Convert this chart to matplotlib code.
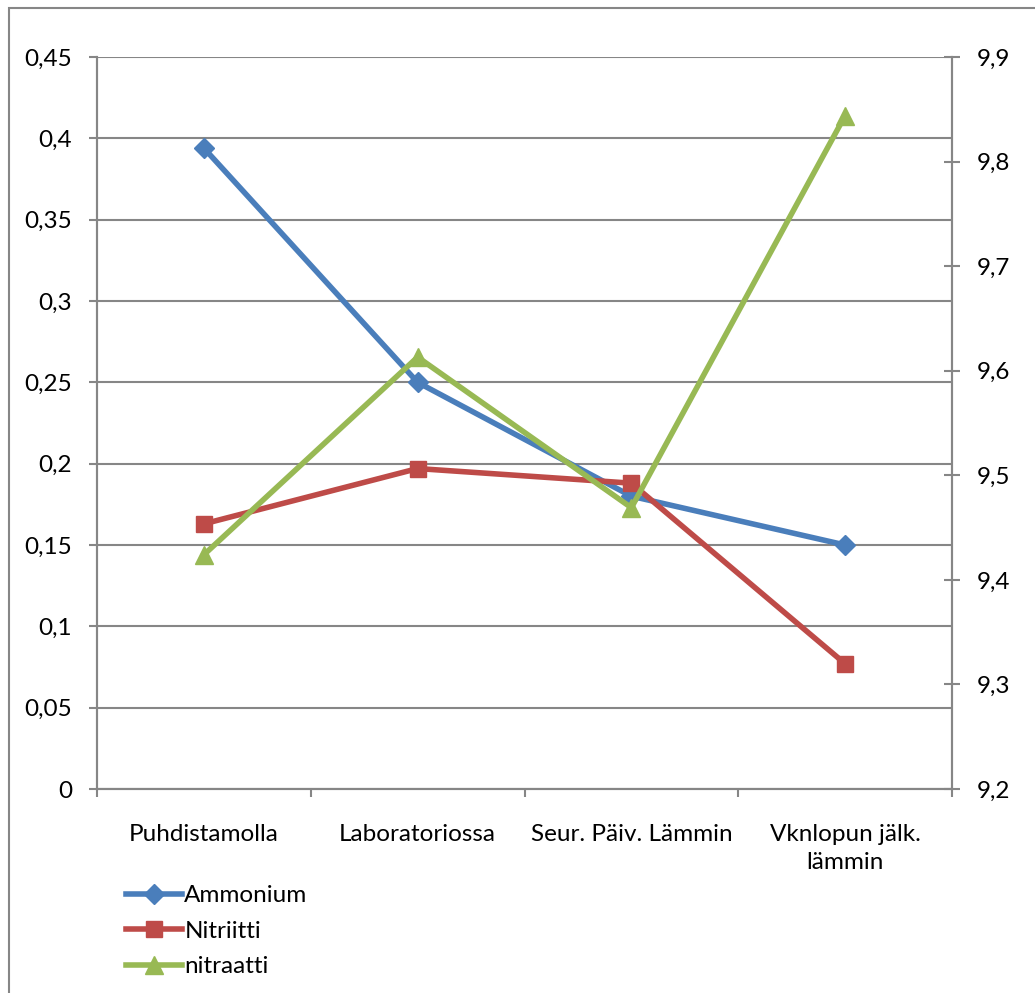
import matplotlib.pyplot as plt
from matplotlib.patches import Rectangle
import numpy as np

plt.rcParams["font.family"] = ["Lato", "DejaVu Sans"]

categories = ["Puhdistamolla", "Laboratoriossa", "Seur. Päiv. Lämmin", "Vknlopun jälk.\nlämmin"]
ammonium = [0.394, 0.250, 0.180, 0.150]
nitriitti = [0.163, 0.197, 0.188, 0.077]
nitraatti = [9.424, 9.613, 9.469, 9.844]

left_ticks = [0, 0.05, 0.1, 0.15, 0.2, 0.25, 0.3, 0.35, 0.4, 0.45]
left_labels = ["0", "0,05", "0,1", "0,15", "0,2", "0,25", "0,3", "0,35", "0,4", "0,45"]
right_ticks = [9.2, 9.3, 9.4, 9.5, 9.6, 9.7, 9.8, 9.9]
right_labels = ["9,2", "9,3", "9,4", "9,5", "9,6", "9,7", "9,8", "9,9"]

W, H = 1035, 993
fig = plt.figure(figsize=(W / 100, H / 100), dpi=100)
ax = fig.add_axes([97 / W, 1 - 789 / H, (952 - 97) / W, (789 - 57) / H])
ax2 = ax.twinx()

grid_col = "#868686"
fs = 17.5
x = np.arange(len(categories))

l1, = ax.plot(x, ammonium, color="#4A7EBB", lw=4, marker="D", ms=10.5,
              label="Ammonium", zorder=3)
l2, = ax.plot(x, nitriitti, color="#BE4B48", lw=4, marker="s", ms=12,
              label="Nitriitti", zorder=4)
l3, = ax2.plot(x, nitraatti, color="#98B954", lw=4, marker="^", ms=13,
               label="nitraatti", zorder=3)

ax.set_xlim(-0.5, len(categories) - 0.5)
ax.set_ylim(0, 0.45)
ax2.set_ylim(9.2, 9.9)

ax.set_yticks(left_ticks)
ax.set_yticklabels(left_labels, fontsize=fs)
ax2.set_yticks(right_ticks)
ax2.set_yticklabels(right_labels, fontsize=fs)

ax.set_xticks(x)
ax.set_xticklabels(categories, fontsize=fs, linespacing=1.4)
ax.set_xticks(np.arange(-0.5, len(categories)), minor=True)
ax.tick_params(axis="x", which="major", length=0, pad=25)
ax.tick_params(axis="x", which="minor", length=6, width=1.5, color=grid_col, direction="out")
ax.tick_params(axis="y", length=6, width=1.5, color=grid_col, direction="out", pad=12)
ax2.tick_params(axis="y", length=12, width=1.5, color=grid_col, direction="inout", pad=12)

ax.grid(axis="y", color=grid_col, lw=1.5)
ax.set_axisbelow(True)
for a in (ax, ax2):
    a.spines["top"].set_visible(False)
    for s in ("left", "right", "bottom"):
        a.spines[s].set_color(grid_col)
        a.spines[s].set_linewidth(1.5)

fig.legend(handles=[l1, l2, l3], loc="upper left",
           bbox_to_anchor=(126 / W, 1 - 885 / H), frameon=False, fontsize=fs,
           handlelength=2.3, handletextpad=0.1, labelspacing=0.6,
           borderpad=0, borderaxespad=0)

# chart area border
fig.add_artist(Rectangle((9 / W, -0.2), 1.2, 1.2 - 8 / H,
                         transform=fig.transFigure, fill=False,
                         edgecolor=grid_col, lw=1.5))

fig.savefig("out.png", dpi=100)
